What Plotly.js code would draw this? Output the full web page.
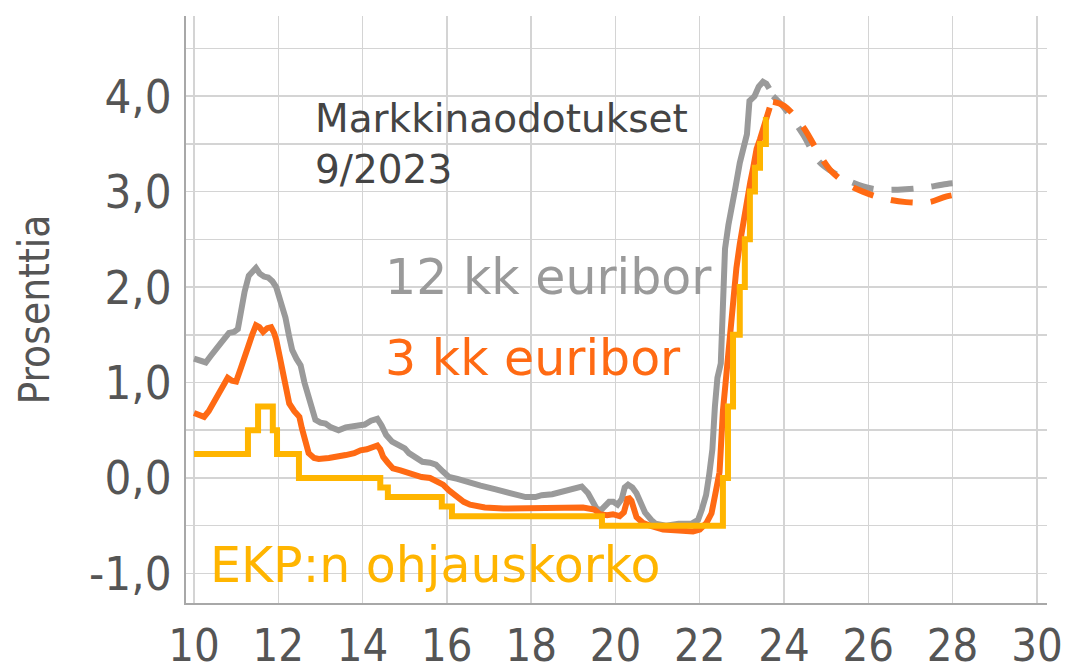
<!DOCTYPE html>
<html>
<head>
<meta charset="utf-8">
<script src="https://cdn.plot.ly/plotly-3.0.1.min.js"></script>
<style>html,body{margin:0;padding:0;background:#fff;}#chart{width:1068px;height:672px;}</style>
</head>
<body>
<div id="chart"></div>
<script>
// Years are given as offsets from 2000 (10 = 2010)
var euribor12X = [10.00,10.15,10.28,10.40,10.52,10.65,10.83,10.95,11.04,11.11,11.20,11.30,11.40,11.47,11.56,11.66,11.76,11.86,11.95,12.01,12.10,12.17,12.25,12.33,12.43,12.53,12.62,12.72,12.80,12.88,13.00,13.12,13.25,13.43,13.60,13.75,13.90,14.05,14.20,14.35,14.45,14.56,14.70,14.85,15.00,15.10,15.25,15.42,15.60,15.74,15.90,16.05,16.25,16.52,16.80,17.16,17.50,17.87,18.10,18.25,18.50,18.73,18.90,19.05,19.20,19.35,19.45,19.55,19.65,19.75,19.85,19.95,20.05,20.15,20.22,20.30,20.40,20.50,20.60,20.70,20.85,20.95,21.20,21.50,21.80,21.96,22.05,22.15,22.22,22.30,22.36,22.42,22.50,22.55,22.60,22.68,22.75,22.85,22.95,23.05,23.12,23.18,23.30,23.40,23.50,23.58,23.65];
var euribor12Y = [1.25,1.22,1.21,1.28,1.36,1.42,1.52,1.53,1.56,1.74,1.95,2.12,2.16,2.20,2.14,2.11,2.10,2.06,2.00,1.92,1.80,1.68,1.50,1.34,1.25,1.18,1.00,0.84,0.70,0.61,0.58,0.57,0.53,0.50,0.53,0.54,0.55,0.56,0.60,0.62,0.55,0.45,0.38,0.35,0.31,0.26,0.21,0.17,0.16,0.14,0.07,0.01,-0.01,-0.05,-0.08,-0.12,-0.16,-0.20,-0.20,-0.18,-0.17,-0.14,-0.12,-0.10,-0.09,-0.16,-0.25,-0.32,-0.34,-0.30,-0.25,-0.25,-0.28,-0.22,-0.10,-0.07,-0.10,-0.16,-0.28,-0.36,-0.44,-0.48,-0.50,-0.48,-0.48,-0.44,-0.33,-0.18,0.02,0.30,0.75,1.05,1.20,1.70,2.40,2.65,2.85,3.05,3.30,3.52,3.60,3.95,4.00,4.10,4.15,4.13,4.08];

var euribor3X = [10.00,10.12,10.24,10.35,10.45,10.60,10.70,10.80,10.90,11.00,11.11,11.20,11.28,11.38,11.47,11.55,11.64,11.74,11.83,11.90,11.95,12.03,12.11,12.18,12.26,12.38,12.50,12.56,12.62,12.72,12.85,12.96,13.20,13.40,13.60,13.80,13.95,14.10,14.25,14.35,14.42,14.49,14.60,14.72,14.90,15.12,15.40,15.60,15.75,15.91,16.05,16.24,16.40,16.55,16.90,17.34,17.90,18.52,19.00,19.23,19.50,19.63,19.80,19.94,20.10,20.20,20.30,20.38,20.50,20.65,20.82,21.13,21.50,21.84,22.00,22.16,22.28,22.38,22.47,22.55,22.62,22.70,22.79,22.87,22.95,23.05,23.12,23.20,23.26,23.35,23.43,23.50,23.59,23.66];
var euribor3Y = [0.68,0.66,0.64,0.70,0.78,0.90,0.98,1.05,1.02,1.01,1.15,1.25,1.37,1.50,1.60,1.58,1.53,1.57,1.58,1.52,1.45,1.28,1.10,0.92,0.78,0.70,0.64,0.52,0.40,0.26,0.21,0.20,0.21,0.22,0.24,0.26,0.29,0.30,0.33,0.34,0.30,0.22,0.16,0.10,0.08,0.05,0.01,0.00,-0.03,-0.07,-0.13,-0.20,-0.25,-0.28,-0.31,-0.32,-0.32,-0.31,-0.31,-0.31,-0.33,-0.38,-0.39,-0.38,-0.40,-0.36,-0.20,-0.24,-0.41,-0.47,-0.50,-0.54,-0.55,-0.56,-0.54,-0.47,-0.37,-0.18,0.06,0.70,1.05,1.45,1.95,2.20,2.45,2.72,2.98,3.10,3.23,3.45,3.55,3.66,3.80,3.88];

var ecbX = [10.00,11.28,11.52,11.87,11.97,12.49,14.42,14.60,15.88,16.12,19.68,22.55,22.67,22.79,22.95,23.07,23.19,23.31,23.43,23.57,23.63];
var ecbY = [0.25,0.50,0.75,0.50,0.25,0.00,-0.10,-0.20,-0.30,-0.40,-0.50,0.00,0.75,1.50,2.00,2.50,3.00,3.25,3.50,3.75,3.75];

var forecast12X = [23.74,24.00,24.45,24.80,25.10,25.60,26.10,26.70,27.30,27.86,28.40];
var forecast12Y = [4.00,3.88,3.60,3.33,3.22,3.10,3.03,3.02,3.04,3.08,3.10];
var forecast3X = [23.74,24.00,24.45,24.80,25.09,25.50,25.87,26.35,26.90,27.45,27.86,28.40];
var forecast3Y = [3.94,3.90,3.68,3.42,3.23,3.08,3.00,2.93,2.89,2.89,2.95,2.99];

var xTickVals = [10,12,14,16,18,20,22,24,26,28,30];
var xTickText = ['10','12','14','16','18','20','22','24','26','28','30'];
var yTickVals = [-1,0,1,2,3,4];
var yTickText = ['-1,0','0,0','1,0','2,0','3,0','4,0'];

var cGray = '#9a9a9a', cOrange = '#ff6a13', cYellow = '#ffb500';

var traces = [
  {x: euribor12X, y: euribor12Y, type:'scatter', mode:'lines', line:{color:cGray, width:6}, hoverinfo:'skip'},
  {x: euribor3X, y: euribor3Y, type:'scatter', mode:'lines', line:{color:cOrange, width:6}, hoverinfo:'skip'},
  {x: ecbX, y: ecbY, type:'scatter', mode:'lines', line:{color:cYellow, width:6, shape:'hv'}, hoverinfo:'skip'},
  {x: forecast12X, y: forecast12Y, type:'scatter', mode:'lines', line:{color:cGray, width:6, dash:'22px,18px', shape:'spline'}, hoverinfo:'skip'},
  {x: forecast3X, y: forecast3Y, type:'scatter', mode:'lines', line:{color:cOrange, width:6, dash:'22px,18px', shape:'spline'}, hoverinfo:'skip'}
];

var tickFont = {family:'DejaVu Sans Condensed, DejaVu Sans, sans-serif', size:47, color:'#555555'};
var xTickFont = {family:'DejaVu Sans Condensed, DejaVu Sans, sans-serif', size:45, color:'#555555'};
var annFont = 'DejaVu Sans, sans-serif';

var layout = {
  width:1068, height:672,
  margin:{l:186, r:21, t:16, b:69, pad:0},
  paper_bgcolor:'#ffffff', plot_bgcolor:'#ffffff',
  showlegend:false,
  xaxis:{
    range:[9.81, 30.24], tickmode:'array', tickvals:xTickVals, ticktext:xTickText,
    showgrid:true, gridcolor:'#d4d4d4', gridwidth:1.5, zeroline:false,
    showline:true, linecolor:'#a8a8a8', linewidth:2,
    ticks:'outside', ticklen:2, tickcolor:'rgba(0,0,0,0)',
    tickfont:xTickFont, fixedrange:true
  },
  yaxis:{
    range:[-1.31, 4.84], tickmode:'array', tickvals:yTickVals, ticktext:yTickText,
    showgrid:true, gridcolor:'#d4d4d4', gridwidth:1.5, zeroline:false,
    minor:{dtick:0.5, tick0:0, showgrid:true, gridcolor:'#d4d4d4', gridwidth:1.5, ticks:''},
    showline:true, linecolor:'#a8a8a8', linewidth:2,
    ticks:'outside', ticklen:3, tickcolor:'rgba(0,0,0,0)',
    tickfont:tickFont, fixedrange:true
  },
  annotations:[
    {text:'Prosenttia', xref:'paper', yref:'paper', x:-0.1765, y:0.5, xanchor:'center', yanchor:'middle', textangle:-90, showarrow:false, font:{family:'DejaVu Sans Condensed, DejaVu Sans, sans-serif', size:42, color:'#555555'}},
    {text:'Markkinaodotukset<br>9/2023', xref:'paper', yref:'paper', x:0.1475, y:0.782, xanchor:'left', yanchor:'middle', align:'left', showarrow:false, font:{family:annFont, size:39, color:'#444444'}},
    {text:'12 kk euribor', xref:'paper', yref:'paper', x:0.2288, y:0.554, xanchor:'left', yanchor:'middle', showarrow:false, font:{family:annFont, size:49, color:cGray}},
    {text:'3 kk euribor', xref:'paper', yref:'paper', x:0.2288, y:0.417, xanchor:'left', yanchor:'middle', showarrow:false, font:{family:annFont, size:49, color:cOrange}},
    {text:'EKP:n ohjauskorko', xref:'paper', yref:'paper', x:0.0255, y:0.0647, xanchor:'left', yanchor:'middle', showarrow:false, font:{family:annFont, size:49, color:cYellow}}
  ]
};

Plotly.newPlot('chart', traces, layout, {displayModeBar:false, staticPlot:true});
</script>
</body>
</html>
